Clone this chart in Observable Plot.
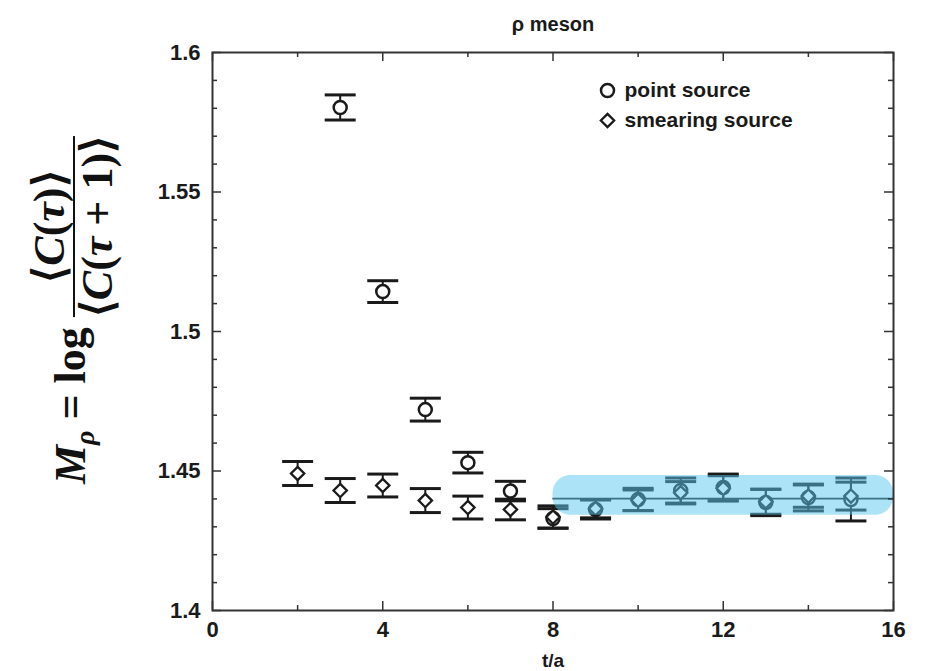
<!DOCTYPE html>
<html><head><meta charset="utf-8">
<script src="https://cdn.jsdelivr.net/npm/d3@7"></script>
<script src="https://cdn.jsdelivr.net/npm/@observablehq/plot@0.6"></script>
<style>
body{margin:0;background:#fff;}
#wrap{position:relative;width:925px;height:671px;}
#ylab{position:absolute;left:74px;top:310px;transform:translate(-50%,-50%) rotate(-90deg);display:flex;align-items:center;white-space:nowrap;font-family:"Liberation Serif","Times New Roman",serif;font-weight:bold;font-size:44px;color:#111;line-height:1.0;}
#ylab i{font-style:italic;}
#ylab sub{font-size:28px;vertical-align:-9px;}
.frac{display:inline-flex;flex-direction:column;align-items:center;margin-left:10px;}
.frac .bar{align-self:stretch;border-top:2.5px solid #111;margin:1px 0;}
</style></head>
<body>
<div id="wrap">
  <div id="chart"></div>
  <div id="ylab"><span><i>M</i><sub><i>ρ</i></sub>&nbsp;=&nbsp;log</span><span class="frac"><span>⟨<i>C</i>(<i>τ</i>)⟩</span><span class="bar"></span><span>⟨<i>C</i>(<i>τ</i> + 1)⟩</span></span></div>
</div>
<script>
// ---- data ----
const tPoint = [3, 4, 5, 6, 7, 8, 9, 10, 11, 12, 13, 14, 15];
const mPoint = [1.5803, 1.5143, 1.4720, 1.4530, 1.4428, 1.4330, 1.4362, 1.4398, 1.4430, 1.4441, 1.4387, 1.4405, 1.4398];
const ePoint = [0.0045, 0.0039, 0.0041, 0.0037, 0.0035, 0.0035, 0.0034, 0.0040, 0.0045, 0.0048, 0.0047, 0.0048, 0.0077];

const tSmear = [2, 3, 4, 5, 6, 7, 8, 9, 10, 11, 12, 13, 14, 15];
const mSmear = [1.4491, 1.4430, 1.4448, 1.4394, 1.4369, 1.4362, 1.4335, 1.4365, 1.4395, 1.4422, 1.4438, 1.4390, 1.4410, 1.4410];
const eSmear = [0.0043, 0.0043, 0.0041, 0.0043, 0.0041, 0.0037, 0.0040, 0.0033, 0.0037, 0.0040, 0.0045, 0.0045, 0.0040, 0.0050];

const fitValue = [1.4401];
const fitRange = [8, 16];
const bandT = [8, 16];
const bandM = [1.4341, 1.4484];

const xMajor = [0, 4, 8, 12, 16];
const xMinor = [2, 6, 10, 14];
const yMajor = [1.4, 1.45, 1.5, 1.55, 1.6];
const yMinor = [1.41, 1.42, 1.43, 1.44, 1.46, 1.47, 1.48, 1.49, 1.51, 1.52, 1.53, 1.54, 1.56, 1.57, 1.58, 1.59];
const yTickLabels = ["1.4", "1.45", "1.5", "1.55", "1.6"];
const xTickLabels = ["0", "4", "8", "12", "16"];
const legendLabels = ["point source", "smearing source"];
const titleText = "ρ meson";
const xLabelText = "t/a";

// ---- tables ----
const point = tPoint.map((t, i) => ({t, m: mPoint[i], e: ePoint[i]}));
const smear = tSmear.map((t, i) => ({t, m: mSmear[i], e: eSmear[i]}));

const W = 925, H = 671, mL = 212, mR = 32, mT = 52, mB = 61;
const plotW = W - mL - mR, plotH = H - mT - mB;
const ink = "#1a1a1a";
const cap = {draw(ctx, size) { const r = Math.sqrt(size / Math.PI); ctx.moveTo(-r, 0); ctx.lineTo(r, 0); }};

function errMarks(data) {
  return [
    Plot.ruleX(data, {x: "t", y1: d => d.m - d.e, y2: d => d.m + d.e, stroke: ink, strokeWidth: 2}),
    Plot.dot(data, {x: "t", y: d => d.m + d.e, symbol: cap, r: 15.5, stroke: ink, strokeWidth: 3}),
    Plot.dot(data, {x: "t", y: d => d.m - d.e, symbol: cap, r: 15.5, stroke: ink, strokeWidth: 3})
  ];
}

const chart = Plot.plot({
  width: W, height: H,
  marginLeft: mL, marginRight: mR, marginTop: mT, marginBottom: mB,
  style: {fontFamily: "'Liberation Sans', Arial, sans-serif", color: ink, background: "white"},
  x: {domain: [0, 16]},
  y: {domain: [1.4, 1.6]},
  marks: [
    Plot.ruleY(fitValue, {x1: fitRange[0], x2: fitRange[1], stroke: ink, strokeWidth: 1.8}),
    ...errMarks(smear),
    ...errMarks(point),
    Plot.dot(point, {x: "t", y: "m", r: 6.5, fill: "white", stroke: ink, strokeWidth: 2.5}),
    Plot.dot(smear, {x: "t", y: "m", symbol: "diamond2", r: 6, fill: "white", stroke: ink, strokeWidth: 2.3}),
    Plot.rect([0], {x1: bandT[0], x2: bandT[1], y1: bandM[0], y2: bandM[1], rx: 18, fill: "rgb(90,200,240)", fillOpacity: 0.5}),
    Plot.frame({stroke: "#333", strokeWidth: 2}),
    // inward ticks, all four sides
    Plot.tickX(xMajor, {x: d => d, insetTop: plotH - 9, stroke: "#333", strokeWidth: 1.5}),
    Plot.tickX(xMinor, {x: d => d, insetTop: plotH - 5, stroke: "#333", strokeWidth: 1.5}),
    Plot.tickX(xMajor, {x: d => d, insetBottom: plotH - 9, stroke: "#333", strokeWidth: 1.5}),
    Plot.tickX(xMinor, {x: d => d, insetBottom: plotH - 5, stroke: "#333", strokeWidth: 1.5}),
    Plot.tickY(yMajor, {y: d => d, insetRight: plotW - 9, stroke: "#333", strokeWidth: 1.5}),
    Plot.tickY(yMinor, {y: d => d, insetRight: plotW - 5, stroke: "#333", strokeWidth: 1.5}),
    Plot.tickY(yMajor, {y: d => d, insetLeft: plotW - 9, stroke: "#333", strokeWidth: 1.5}),
    Plot.tickY(yMinor, {y: d => d, insetLeft: plotW - 5, stroke: "#333", strokeWidth: 1.5}),
    Plot.axisX({ticks: xMajor, tickSize: 0, tickPadding: 11, tickFormat: (d, i) => xTickLabels[i], label: null, fontSize: 22, fontWeight: "bold", fill: ink}),
    Plot.axisY({ticks: yMajor, tickSize: 0, tickPadding: 12, tickFormat: (d, i) => yTickLabels[i], label: null, fontSize: 22, fontWeight: "bold", fill: ink}),
    // title and x label
    Plot.text([titleText], {frameAnchor: "top", dy: -28, text: d => d, fontSize: 20, fontWeight: "bold", fill: ink, lineAnchor: "middle"}),
    Plot.text([xLabelText], {frameAnchor: "bottom", dy: 50, text: d => d, fontSize: 19, fontWeight: "bold", fill: ink, lineAnchor: "middle"}),
    // legend
    Plot.dot([legendLabels[0]], {frameAnchor: "top-left", dx: 395, dy: 38, r: 6.5, fill: "white", stroke: ink, strokeWidth: 2.5}),
    Plot.dot([legendLabels[1]], {frameAnchor: "top-left", dx: 395, dy: 68, symbol: "diamond2", r: 6, fill: "white", stroke: ink, strokeWidth: 2.3}),
    Plot.text([legendLabels[0]], {frameAnchor: "top-left", dx: 412, dy: 38, text: d => d, textAnchor: "start", lineAnchor: "middle", fontSize: 21, fontWeight: "bold", fill: ink}),
    Plot.text([legendLabels[1]], {frameAnchor: "top-left", dx: 412, dy: 68, text: d => d, textAnchor: "start", lineAnchor: "middle", fontSize: 21, fontWeight: "bold", fill: ink})
  ]
});
document.getElementById("chart").appendChild(chart);
</script>
</body></html>
